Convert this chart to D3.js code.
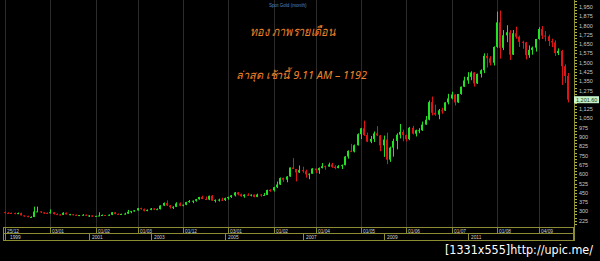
<!DOCTYPE html>
<html>
<head>
<meta charset="utf-8">
<script src="https://cdn.jsdelivr.net/npm/d3@7"></script>
<style>
  html, body { margin: 0; padding: 0; background: #000; overflow: hidden; }
  svg { display: block; }
  text { font-family: "Liberation Sans", Arial, sans-serif; }
</style>
</head>
<body>
<svg id="chart" width="600" height="261"></svg>
<script>
// Spot gold, monthly candles, Dec 1998 .. Jun 2013
const opens = [
  294,
  288, 287, 286, 279, 286, 268, 262, 255, 255, 299, 300, 292,
  288, 287, 293, 278, 275, 272, 289, 276, 277, 273, 264, 270,
  273, 265, 267, 258, 264, 267, 271, 265, 273, 293, 279, 275,
  279, 282, 297, 302, 308, 326, 318, 305, 312, 323, 317, 318,
  347, 368, 348, 334, 337, 364, 346, 354, 375, 384, 386, 398,
  416, 400, 396, 426, 387, 393, 395, 391, 407, 416, 429, 453,
  438, 422, 435, 428, 435, 417, 436, 430, 433, 473, 470, 495,
  517, 569, 556, 582, 654, 643, 614, 633, 624, 599, 604, 646,
  632, 650, 665, 662, 679, 660, 650, 665, 673, 743, 789, 783,
  834, 923, 971, 916, 863, 885, 930, 913, 833, 880, 718, 815,
  869, 919, 942, 916, 883, 975, 927, 955, 955, 1001, 1040, 1182,
  1096, 1081, 1116, 1113, 1180, 1212, 1244, 1180, 1248, 1307, 1357, 1386,
  1421, 1333, 1410, 1439, 1556, 1536, 1500, 1628, 1826, 1620, 1722, 1746,
  1565, 1738, 1710, 1669, 1664, 1561, 1604, 1622, 1692, 1772, 1719, 1713,
  1675, 1664, 1578, 1596, 1472, 1393
];
const highs = [
  298,
  293, 291, 290, 291, 290, 267, 265, 260, 338, 339, 301, 293,
  292, 316, 295, 285, 277, 293, 291, 280, 278, 274, 271, 277,
  274, 269, 268, 264, 293, 275, 272, 275, 294, 294, 283, 282,
  289, 312, 304, 311, 328, 330, 323, 316, 327, 325, 324, 350,
  372, 389, 352, 341, 374, 372, 354, 377, 392, 388, 401, 417,
  427, 420, 427, 432, 396, 403, 410, 411, 418, 431, 456, 456,
  444, 438, 446, 437, 436, 443, 440, 449, 475, 479, 498, 541,
  574, 573, 584, 654, 730, 641, 671, 661, 637, 606, 650, 643,
  655, 690, 670, 694, 692, 673, 674, 679, 745, 792, 845, 840,
  930, 974, 1033, 936, 909, 945, 989, 917, 912, 936, 823, 887,
  930, 1006, 960, 921, 982, 991, 960, 972, 1025, 1070, 1195, 1227,
  1162, 1127, 1137, 1181, 1249, 1266, 1244, 1248, 1307, 1387, 1424, 1431,
  1424, 1412, 1447, 1576, 1577, 1553, 1632, 1913, 1921, 1764, 1803, 1763,
  1764, 1791, 1719, 1677, 1668, 1640, 1631, 1692, 1787, 1796, 1755, 1727,
  1694, 1681, 1616, 1604, 1488, 1417
];
const lows = [
  283,
  283, 282, 278, 278, 267, 257, 253, 252, 254, 296, 288, 280,
  281, 283, 276, 273, 268, 272, 275, 270, 268, 263, 263, 267,
  262, 255, 256, 255, 262, 265, 263, 264, 270, 277, 272, 271,
  276, 280, 285, 298, 306, 314, 300, 301, 310, 312, 314, 316,
  343, 343, 323, 319, 335, 342, 341, 350, 370, 366, 379, 395,
  399, 393, 391, 386, 372, 380, 384, 384, 395, 409, 421, 430,
  418, 410, 425, 422, 414, 415, 418, 430, 432, 458, 460, 488,
  513, 538, 535, 579, 643, 542, 610, 612, 573, 560, 605, 610,
  603, 647, 636, 661, 652, 640, 648, 642, 672, 726, 778, 776,
  832, 884, 910, 861, 851, 860, 908, 786, 740, 681, 700, 742,
  801, 889, 866, 865, 875, 921, 905, 931, 950, 1000, 1036, 1075,
  1072, 1044, 1088, 1112, 1164, 1205, 1155, 1176, 1242, 1305, 1330, 1359,
  1308, 1329, 1381, 1416, 1462, 1478, 1478, 1620, 1534, 1602, 1666, 1523,
  1563, 1695, 1627, 1613, 1527, 1540, 1565, 1590, 1686, 1692, 1673, 1635,
  1626, 1555, 1562, 1321, 1338, 1180
];
const closes = [
  288,
  287, 286, 279, 286, 268, 262, 255, 255, 299, 300, 292, 288,
  287, 293, 278, 275, 272, 289, 276, 277, 273, 264, 270, 273,
  265, 267, 258, 264, 267, 271, 265, 273, 293, 279, 275, 279,
  282, 297, 302, 308, 326, 318, 305, 312, 323, 317, 318, 347,
  368, 348, 334, 337, 364, 346, 354, 375, 384, 386, 398, 416,
  400, 396, 426, 387, 393, 395, 391, 407, 416, 429, 453, 438,
  422, 435, 428, 435, 417, 436, 430, 433, 473, 470, 495, 517,
  569, 556, 582, 654, 643, 614, 633, 624, 599, 604, 646, 632,
  650, 665, 662, 679, 660, 650, 665, 673, 743, 789, 783, 834,
  923, 971, 916, 863, 885, 930, 913, 833, 880, 718, 815, 869,
  919, 942, 916, 883, 975, 927, 955, 955, 1001, 1040, 1182, 1096,
  1081, 1116, 1113, 1180, 1212, 1244, 1180, 1248, 1307, 1357, 1386, 1421,
  1333, 1410, 1439, 1556, 1536, 1500, 1628, 1826, 1620, 1722, 1746, 1565,
  1738, 1710, 1669, 1664, 1561, 1604, 1622, 1692, 1772, 1719, 1713, 1675,
  1664, 1578, 1596, 1472, 1393, 1201.6
];
const lastPrice = 1201.6;

// x axis: date row (candle index + label) and year row
const gridIdx    = [0, 14, 28, 41, 55, 69, 83, 96, 110, 124, 138, 152, 165];
const gridLabels = ['25/12', '03/01', '01/02', '01/03', '01/12', '03/01', '01/02',
                    '01/04', '01/05', '01/06', '01/07', '01/08', '04/09'];
const yearIdx    = [0, 27, 46, 69, 93, 118, 144];
const yearLabels = ['1999', '2001', '2003', '2005', '2007', '2009', '2011'];

// y axis tick labels (1,200 sits under the last-price box)
const yTicks = [225, 300, 375, 450, 525, 600, 675, 750, 825, 900, 975, 1050,
                1125, 1275, 1350, 1425, 1500, 1575, 1650, 1725, 1800, 1875, 1950];

const title = 'Spot Gold (month)';
const headline = 'ทอง ภาพรายเดือน';
const subline = 'ล่าสุด เช้านี้ 9.11 AM – 1192';
const watermark = '[1331x555]http://upic.me/';

const upColor = '#22e022';
const downColor = '#e01414';
const axisColor = '#8c8c32';

const svg = d3.select('#chart');
svg.append('rect').attr('width', 600).attr('height', 261).attr('fill', '#000');

const candles = closes.map((c, i) => ({ i, o: opens[i], h: highs[i], l: lows[i], c }));

const x = d3.scaleLinear().domain([0, candles.length - 1]).range([5, 568]);
const y = d3.scaleLinear().domain([174, 2006.5]).range([227, 0]);
const px = i => Math.round(x(i));

// vertical grid
svg.append('g')
  .selectAll('line')
  .data(gridIdx)
  .join('line')
  .attr('x1', d => px(d) + 0.5)
  .attr('x2', d => px(d) + 0.5)
  .attr('y1', 0)
  .attr('y2', 227)
  .attr('stroke', '#2c2c2c')
  .attr('stroke-width', 1);

// candles
const cg = svg.append('g');
cg.selectAll('.wick')
  .data(candles)
  .join('rect')
  .attr('class', 'wick')
  .attr('x', d => px(d.i))
  .attr('width', 1)
  .attr('y', d => y(d.h))
  .attr('height', d => Math.max(1, y(d.l) - y(d.h)))
  .attr('fill', d => d.c >= d.o ? upColor : downColor);

cg.selectAll('.body')
  .data(candles)
  .join('rect')
  .attr('class', 'body')
  .attr('x', d => px(d.i) - 1)
  .attr('width', 2)
  .attr('y', d => y(Math.max(d.o, d.c)))
  .attr('height', d => Math.max(1, Math.abs(y(d.o) - y(d.c))))
  .attr('fill', d => d.c >= d.o ? upColor : downColor);

// y axis
const ya = svg.append('g');
ya.append('line')
  .attr('x1', 574.5).attr('x2', 574.5)
  .attr('y1', 0).attr('y2', 241)
  .attr('stroke', axisColor);

const minor = d3.range(200, 2001, 25);
ya.selectAll('.minor')
  .data(minor)
  .join('line')
  .attr('x1', 575).attr('x2', 577)
  .attr('y1', d => Math.round(y(d)) + 0.5)
  .attr('y2', d => Math.round(y(d)) + 0.5)
  .attr('stroke', '#b4b43c');

ya.selectAll('.lbl')
  .data(yTicks)
  .join('text')
  .attr('x', 579)
  .attr('y', d => y(d) + 2)
  .attr('font-size', 5.5)
  .attr('fill', '#c8c8c8')
  .text(d3.format(','));

// last price box
const lp = svg.append('g').attr('transform', `translate(574,${y(lastPrice)})`);
lp.append('rect')
  .attr('x', 0).attr('y', -3.5)
  .attr('width', 25).attr('height', 7)
  .attr('fill', '#c6f2c6');
lp.append('text')
  .attr('x', 2).attr('y', 2)
  .attr('font-size', 5.5)
  .attr('fill', '#1c3c1c')
  .text(d3.format(',.2f')(lastPrice));

// x axis boxes
const xa = svg.append('g').attr('fill', 'none').attr('stroke', axisColor);
xa.append('rect').attr('x', 3.5).attr('y', 227.5).attr('width', 570).attr('height', 6);
xa.append('rect').attr('x', 3.5).attr('y', 233.5).attr('width', 570).attr('height', 7);

xa.selectAll('.gdiv')
  .data(gridIdx)
  .join('line')
  .attr('x1', d => px(d) + 0.5).attr('x2', d => px(d) + 0.5)
  .attr('y1', 227.5).attr('y2', 233.5);

xa.selectAll('.ydiv')
  .data(yearIdx)
  .join('line')
  .attr('x1', d => px(d) + 0.5 - (d === 0 ? 0 : 3)).attr('x2', d => px(d) + 0.5 - (d === 0 ? 0 : 3))
  .attr('y1', 233.5).attr('y2', 240.5);

svg.append('g')
  .selectAll('text')
  .data(gridIdx)
  .join('text')
  .attr('x', d => px(d) + 2)
  .attr('y', 232.6)
  .attr('font-size', 4.8)
  .attr('fill', '#cfcfcf')
  .text((d, i) => gridLabels[i]);

svg.append('g')
  .selectAll('text')
  .data(yearIdx)
  .join('text')
  .attr('x', d => px(d) + (d === 0 ? 5 : 0))
  .attr('y', 239.2)
  .attr('font-size', 4.8)
  .attr('fill', '#cfcfcf')
  .text((d, i) => yearLabels[i]);

// titles
svg.append('text')
  .attr('x', 269).attr('y', 6.5)
  .attr('font-size', 4.6)
  .attr('fill', '#4f86c6')
  .text(title);

svg.append('text')
  .attr('x', 250).attr('y', 36)
  .attr('font-size', 13)
  .attr('font-style', 'italic')
  .attr('fill', '#f0842c')
  .attr('textLength', 85)
  .attr('lengthAdjust', 'spacingAndGlyphs')
  .style('font-family', 'Tahoma, "Noto Sans", "DejaVu Sans", sans-serif')
  .text(headline);

svg.append('text')
  .attr('x', 236).attr('y', 79)
  .attr('font-size', 11)
  .attr('font-style', 'italic')
  .attr('fill', '#f0842c')
  .attr('textLength', 131)
  .attr('lengthAdjust', 'spacingAndGlyphs')
  .style('font-family', 'Tahoma, "Noto Sans", "DejaVu Sans", sans-serif')
  .text(subline);

// image host stamp
svg.append('text')
  .attr('x', 445).attr('y', 254)
  .attr('font-size', 13)
  .attr('fill', '#ffffff')
  .attr('textLength', 148)
  .attr('lengthAdjust', 'spacingAndGlyphs')
  .style('font-family', '"Liberation Sans Narrow", "DejaVu Sans Condensed", sans-serif')
  .text(watermark);
</script>
</body>
</html>
